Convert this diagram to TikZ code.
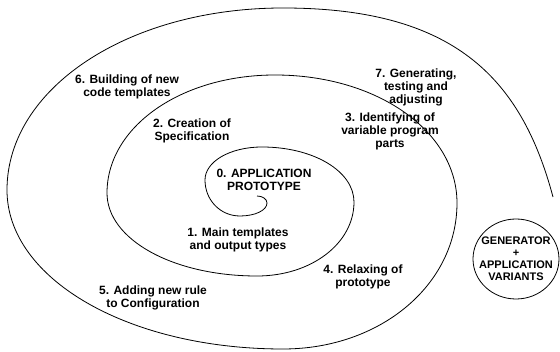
\documentclass[tikz,border=0pt]{standalone}
\usepackage{fontspec}
\setmainfont{Liberation Sans}
\usetikzlibrary{shapes.geometric}
\begin{document}
\begin{tikzpicture}[x=1pt,y=-1pt,
  lbl/.style={align=center, inner sep=0pt, font=\fontsize{12}{13}\selectfont\bfseries},
  genlbl/.style={align=center, inner sep=0pt, font=\fontsize{11}{12}\selectfont\bfseries},
  spiral/.style={draw=black, line width=0.8pt},
  genbox/.style={draw=black, line width=0.8pt, ellipse, minimum width=86pt, minimum height=80pt, inner sep=0pt}]
\useasboundingbox (0,0) rectangle (560,352);
% spiral
\path[spiral] (257,196)
  .. controls (262.6,196) and (267,199.1) .. (267,203)
  .. controls (267,210.3) and (255.1,216) .. (240,216)
  .. controls (220.4,216) and (205,200.2) .. (205,180)
  .. controls (205,161.5) and (230.1,147) .. (262,147)
  .. controls (313.5,147) and (354,171.2) .. (354,202)
  .. controls (354,243.4) and (311.3,276) .. (257,276)
  .. controls (173,276) and (107,239.5) .. (107,193)
  .. controls (107,126.9) and (180.9,75) .. (275,75)
  .. controls (376.9,75) and (457,131.3) .. (457,203)
  .. controls (457,284.8) and (380.4,349) .. (283,349)
  .. controls (128.4,349) and (7,279) .. (7,190)
  .. controls (7,88.1) and (128.4,8) .. (283,8)
  .. controls (453,8) and (521,77) .. (553,197);
% labels
\node[lbl] (l0) at (264,180) {0. APPLICATION\\PROTOTYPE};
\node[lbl] (l1) at (238,240) {1. Main templates\\and output types};
\node[lbl] (l2) at (192,131) {2. Creation of\\Specification};
\node[lbl] (l3) at (390,131) {3. Identifying of\\variable program\\parts};
\node[lbl] (l4) at (363,277) {4. Relaxing of\\prototype};
\node[lbl] (l5) at (153,298) {5. Adding new rule\\to Configuration};
\node[lbl] (l6) at (127,87) {6. Building of new\\code templates};
\node[lbl] (l7) at (416,87) {7. Generating,\\testing and\\adjusting};
% generator
\node[genbox] (gen) at (516,259) {};
\node[genlbl] (gentext) at (gen.center) {GENERATOR\\+\\APPLICATION\\VARIANTS};
\end{tikzpicture}
\end{document}
